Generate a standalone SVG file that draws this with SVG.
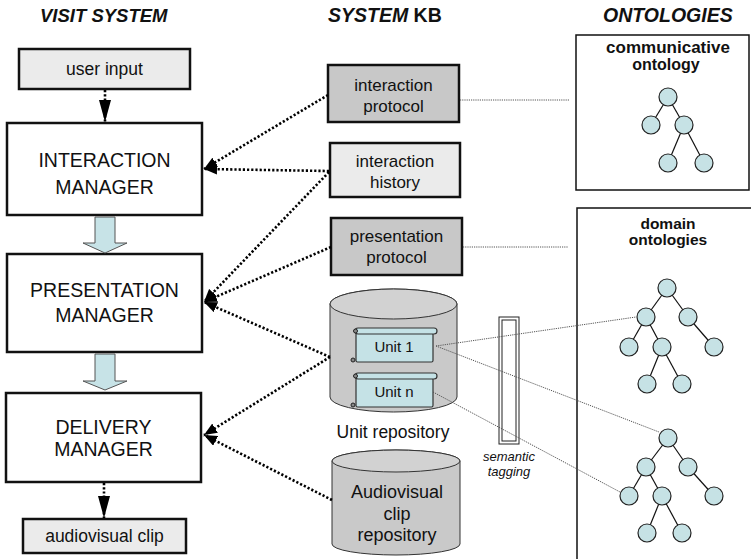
<svg xmlns="http://www.w3.org/2000/svg" width="751" height="559" viewBox="0 0 751 559">
<defs>
<style>
text{font-family:"Liberation Sans",Arial,sans-serif;fill:#111}
.hdr{font-size:18.5px;font-weight:bold;font-style:italic}
.mgr{fill:#fff;stroke:#111;stroke-width:2.5}
.mgrt{font-size:19.5px;text-anchor:middle}
.io{fill:#ebebeb;stroke:#111;stroke-width:2.5}
.kbd{fill:#c8c8c8;stroke:#111;stroke-width:2.5}
.kbl{fill:#ebebeb;stroke:#111;stroke-width:2.5}
.bt{font-size:17px;text-anchor:middle}
.blk{fill:#c7e3e7;stroke:#555;stroke-width:1}
.cyl{fill:#c9c9c9;stroke:#333;stroke-width:1}
.cylt{fill:#d2d2d2;stroke:#333;stroke-width:1}
.unit{fill:#c5e2e6;stroke:#333;stroke-width:1.2}
.dot{fill:none;stroke:#000;stroke-width:2.6;stroke-dasharray:2.2 2}
.thin{fill:none;stroke:#555;stroke-width:1;stroke-dasharray:1.2 1}
.ont{fill:#fff;stroke:#111;stroke-width:1.5}
.ontt{font-size:15.5px;font-weight:bold;text-anchor:middle}
.tn{fill:#c6e2e5;stroke:#222;stroke-width:1.2}
.te{stroke:#111;stroke-width:1.2}
.sem{font-size:13px;font-style:italic;text-anchor:middle}
</style>
<marker id="ah" markerUnits="userSpaceOnUse" viewBox="0 0 12 10" markerWidth="13" markerHeight="11" refX="12" refY="5" orient="auto">
<path d="M0,0 L12,5 L0,10 Z" fill="#000"/>
</marker>
<marker id="ahv" markerUnits="userSpaceOnUse" viewBox="0 0 22 12" markerWidth="22" markerHeight="12" refX="22" refY="6" orient="auto">
<path d="M0,0 L22,6 L0,12 Z" fill="#000"/>
</marker>
</defs>

<text class="hdr" x="40" y="22">VISIT SYSTEM</text>
<text class="hdr" x="328" y="22" style="font-size:19.5px">SYSTEM <tspan font-style="normal">KB</tspan></text>
<text class="hdr" x="603" y="22" style="font-size:19.5px">ONTOLOGIES</text>

<g id="user-input">
<rect class="io" x="19" y="49" width="171" height="40"/>
<text class="bt" x="104.5" y="75" style="font-size:17.5px">user input</text>
</g>
<g id="interaction-manager">
<rect class="mgr" x="7" y="123" width="195" height="92"/>
<text class="mgrt" x="104.5" y="167">INTERACTION</text>
<text class="mgrt" x="104.5" y="194">MANAGER</text>
</g>
<g id="presentation-manager">
<rect class="mgr" x="7" y="254" width="195" height="98"/>
<text class="mgrt" x="104.5" y="297">PRESENTATION</text>
<text class="mgrt" x="104.5" y="322">MANAGER</text>
</g>
<g id="delivery-manager">
<rect class="mgr" x="6" y="393" width="195" height="89"/>
<text class="mgrt" x="103.5" y="434">DELIVERY</text>
<text class="mgrt" x="103.5" y="456">MANAGER</text>
</g>
<g id="audiovisual-clip">
<rect class="io" x="23" y="519" width="163" height="34"/>
<text class="bt" x="104.5" y="542" style="font-size:17.5px">audiovisual clip</text>
</g>

<g id="interaction-protocol">
<rect class="kbd" x="328" y="65" width="131" height="57"/>
<text class="bt" x="393.5" y="91">interaction</text>
<text class="bt" x="393.5" y="112">protocol</text>
</g>
<g id="interaction-history">
<rect class="kbl" x="330" y="143" width="130" height="54"/>
<text class="bt" x="395" y="167">interaction</text>
<text class="bt" x="395" y="188">history</text>
</g>
<g id="presentation-protocol">
<rect class="kbd" x="331" y="218" width="131" height="57"/>
<text class="bt" x="396.5" y="242">presentation</text>
<text class="bt" x="396.5" y="263">protocol</text>
</g>

<g id="unit-repository">
<path class="cyl" d="M330,304 V397 A63.5,15 0 0 0 457,397 V304 A63.5,15 0 0 0 330,304 Z"/>
<ellipse class="cylt" cx="393.5" cy="304" rx="63.5" ry="15"/>
<g id="unit-1">
<rect class="unit" x="356" y="333" width="77" height="29" rx="1.5"/>
<rect class="unit" x="355" y="328" width="82" height="6" rx="3"/>
<circle cx="355.5" cy="331" r="2" fill="#888" stroke="#222" stroke-width="1"/>
<circle cx="353" cy="360" r="2" fill="#888" stroke="#222" stroke-width="1"/>
<text x="394" y="352" style="font-size:15px;text-anchor:middle">Unit 1</text>
</g>
<g id="unit-n">
<rect class="unit" x="356" y="378" width="77" height="29" rx="1.5"/>
<rect class="unit" x="355" y="373" width="82" height="6" rx="3"/>
<circle cx="355.5" cy="376" r="2" fill="#888" stroke="#222" stroke-width="1"/>
<circle cx="353" cy="405" r="2" fill="#888" stroke="#222" stroke-width="1"/>
<text x="394" y="397" style="font-size:15px;text-anchor:middle">Unit n</text>
</g>
<text x="393" y="438" style="font-size:17.5px;text-anchor:middle">Unit repository</text>
</g>

<g id="audiovisual-clip-repository">
<path class="cyl" d="M332,461 V544 A64,11 0 0 0 460,544 V461 A64,11 0 0 0 332,461 Z"/>
<ellipse class="cylt" cx="396" cy="461" rx="64" ry="11"/>
<text x="397" y="498" style="font-size:18px;text-anchor:middle">Audiovisual</text>
<text x="397" y="520" style="font-size:18px;text-anchor:middle">clip</text>
<text x="397" y="541" style="font-size:18px;text-anchor:middle">repository</text>
</g>

<g id="semantic-tagging">
<rect x="499" y="317" width="20" height="127" fill="#fff" stroke="#222" stroke-width="1"/>
<rect x="502" y="320" width="14" height="121" fill="#fff" stroke="#222" stroke-width="1"/>
<text class="sem" x="509" y="461">semantic</text>
<text class="sem" x="509" y="476">tagging</text>
</g>

<g id="communicative-ontology">
<rect class="ont" x="576" y="35" width="173" height="155"/>
<text class="ontt" x="668" y="53" style="font-size:17px">communicative</text>
<text class="ontt" x="666" y="70" style="font-size:16px">ontology</text>
<g>
<line class="te" x1="668" y1="97" x2="651" y2="125"/>
<line class="te" x1="668" y1="97" x2="684" y2="125"/>
<line class="te" x1="684" y1="125" x2="668" y2="163"/>
<line class="te" x1="684" y1="125" x2="704" y2="163"/>
<circle class="tn" cx="668" cy="97" r="9"/>
<circle class="tn" cx="651" cy="125" r="9"/>
<circle class="tn" cx="684" cy="125" r="9"/>
<circle class="tn" cx="668" cy="163" r="9"/>
<circle class="tn" cx="704" cy="163" r="9"/>
</g>
</g>

<g id="domain-ontologies">
<rect class="ont" x="577" y="208" width="180" height="370"/>
<text class="ontt" x="668" y="229">domain</text>
<text class="ontt" x="668" y="245">ontologies</text>
<g id="tree-1">
<line class="te" x1="667" y1="288" x2="646" y2="317"/>
<line class="te" x1="667" y1="288" x2="688" y2="317"/>
<line class="te" x1="646" y1="317" x2="629" y2="347"/>
<line class="te" x1="646" y1="317" x2="662" y2="347"/>
<line class="te" x1="688" y1="317" x2="714" y2="347"/>
<line class="te" x1="662" y1="347" x2="647" y2="384"/>
<line class="te" x1="662" y1="347" x2="682" y2="384"/>
<circle class="tn" cx="667" cy="288" r="9"/>
<circle class="tn" cx="646" cy="317" r="9"/>
<circle class="tn" cx="688" cy="317" r="9"/>
<circle class="tn" cx="629" cy="347" r="9"/>
<circle class="tn" cx="662" cy="347" r="9"/>
<circle class="tn" cx="714" cy="347" r="9"/>
<circle class="tn" cx="647" cy="384" r="9"/>
<circle class="tn" cx="682" cy="384" r="9"/>
</g>
<g id="tree-2">
<line class="te" x1="668" y1="438" x2="646" y2="467"/>
<line class="te" x1="668" y1="438" x2="688" y2="467"/>
<line class="te" x1="646" y1="467" x2="629" y2="496"/>
<line class="te" x1="646" y1="467" x2="662" y2="496"/>
<line class="te" x1="688" y1="467" x2="714" y2="496"/>
<line class="te" x1="662" y1="496" x2="647" y2="533"/>
<line class="te" x1="662" y1="496" x2="682" y2="533"/>
<circle class="tn" cx="668" cy="438" r="9"/>
<circle class="tn" cx="646" cy="467" r="9"/>
<circle class="tn" cx="688" cy="467" r="9"/>
<circle class="tn" cx="629" cy="496" r="9"/>
<circle class="tn" cx="662" cy="496" r="9"/>
<circle class="tn" cx="714" cy="496" r="9"/>
<circle class="tn" cx="647" cy="533" r="9"/>
<circle class="tn" cx="682" cy="533" r="9"/>
</g>
</g>

<g id="connectors">
<polygon class="blk" points="95,217 115,217 115,243 127,243 105,253 83,243 95,243"/>
<polygon class="blk" points="95,354 115,354 115,381 127,381 105,390 83,381 95,381"/>
<line class="dot" x1="105" y1="90" x2="105" y2="122" marker-end="url(#ahv)"/>
<line class="dot" x1="104" y1="483" x2="104" y2="518" marker-end="url(#ahv)"/>
<line class="dot" x1="328" y1="95" x2="204" y2="169" marker-end="url(#ah)"/>
<line class="dot" x1="329" y1="171" x2="204" y2="169" marker-end="url(#ah)"/>
<line class="dot" x1="329" y1="172" x2="204" y2="302" marker-end="url(#ah)"/>
<line class="dot" x1="331" y1="247" x2="204" y2="302" marker-end="url(#ah)"/>
<line class="dot" x1="330" y1="357" x2="204" y2="302" marker-end="url(#ah)"/>
<line class="dot" x1="330" y1="357" x2="204" y2="435" marker-end="url(#ah)"/>
<line class="dot" x1="332" y1="500" x2="204" y2="435" marker-end="url(#ah)"/>
<line class="thin" x1="460" y1="100" x2="570" y2="100"/>
<line class="thin" x1="463" y1="247" x2="568" y2="247"/>
<line class="thin" x1="436" y1="346" x2="636" y2="317"/>
<line class="thin" x1="436" y1="346" x2="659" y2="432"/>
<line class="thin" x1="433" y1="392" x2="620" y2="492"/>
</g>
</svg>
